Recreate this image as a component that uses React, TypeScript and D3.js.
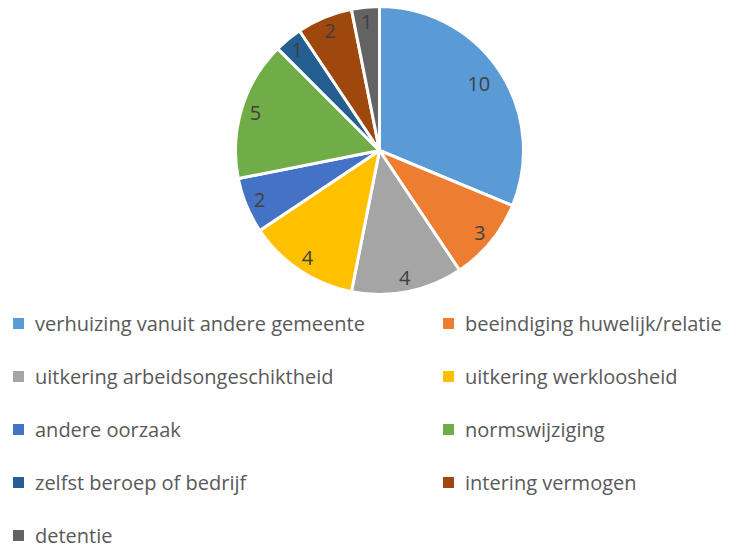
import React from "react";
import * as d3 from "d3";

const categories = [
  "verhuizing vanuit andere gemeente",
  "beeindiging huwelijk/relatie",
  "uitkering arbeidsongeschiktheid",
  "uitkering werkloosheid",
  "andere oorzaak",
  "normswijziging",
  "zelfst beroep of bedrijf",
  "intering vermogen",
  "detentie",
];
const values = [10, 3, 4, 4, 2, 5, 1, 2, 1];
const colors = ["#5B9BD5", "#ED7D31", "#A5A5A5", "#FFC000", "#4472C4", "#70AD47", "#255E91", "#9E480E", "#636363"];

const W = 743;
const H = 549;
const cx = 379.5;
const cy = 150.5;
const R = 144;

export default function App() {
  const pie = d3.pie<number>().sort(null).value((d) => d)(values);
  const arc = d3.arc<d3.PieArcDatum<number>>().innerRadius(0).outerRadius(R);
  const labelPos = (d: d3.PieArcDatum<number>) => {
    const mid = (d.startAngle + d.endAngle) / 2;
    const r = d.value >= 8 ? R * 0.83 : R * 0.9;
    return [Math.sin(mid) * r, -Math.cos(mid) * r];
  };
  const legendX = [13, 443];
  const rowY = d3.scaleLinear().domain([0, 1]).range([323.5, 376.5]);
  return (
    <svg width={W} height={H} style={{ position: "absolute", left: 0, top: 0, background: "#fff" }}
      fontFamily="'Open Sans', sans-serif">
      <g transform={`translate(${cx},${cy})`}>
        {pie.map((d, i) => (
          <path key={i} d={arc(d) || ""} fill={colors[i]} stroke="#fff" strokeWidth={3} strokeLinejoin="round" />
        ))}
        {pie.map((d, i) => {
          const [x, y] = labelPos(d);
          return (
            <text key={i} x={x} y={y + 7} textAnchor="middle" fontSize={20} fill="#404040">
              {d.value}
            </text>
          );
        })}
      </g>
      {categories.map((c, i) => {
        const col = i % 2;
        const row = Math.floor(i / 2);
        const y = rowY(row);
        return (
          <g key={c}>
            <rect x={legendX[col]} y={y - 5.5} width={11} height={11} fill={colors[i]} />
            <text x={legendX[col] + 22} y={y + 7.5} fontSize={20} fill="#595959">
              {c}
            </text>
          </g>
        );
      })}
    </svg>
  );
}
